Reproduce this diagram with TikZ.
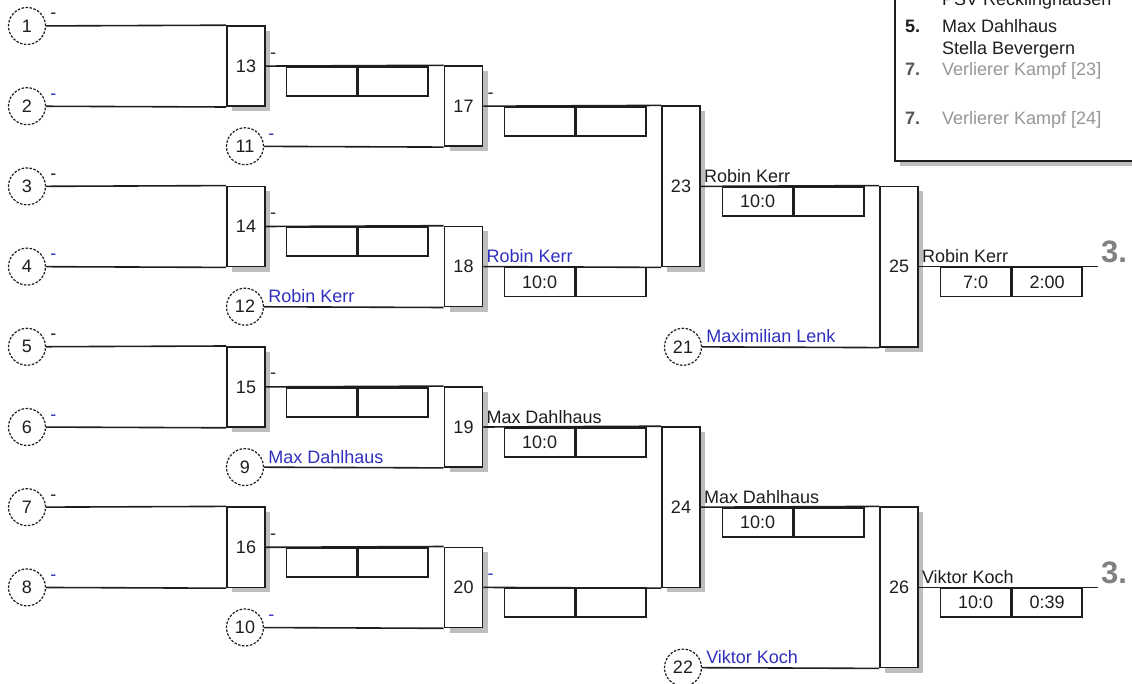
\documentclass[tikz,border=0pt]{standalone}
\usepackage{fontspec}
\setmainfont{Liberation Sans}
\usepackage{tikz}
\usetikzlibrary{positioning,calc,shadows}
\definecolor{brInk}{RGB}{30,30,30}
\definecolor{brBlue}{RGB}{48,48,190}
\definecolor{brShadow}{RGB}{190,190,190}
\definecolor{brGray}{RGB}{150,150,150}
\definecolor{brDark}{RGB}{85,85,85}
\definecolor{brPlace}{RGB}{128,128,128}
\tikzset{
    base/.style={font=\fontsize{18}{21}\selectfont, text=brInk, inner sep=0pt},
    seed/.style={base, circle, draw=brInk, line width=1.2pt, dash pattern=on 2.5pt off 1.5pt,
                 minimum size=37pt, fill=white},
    match/.style={base, rectangle, draw=brInk, line width=1.6pt, fill=white, minimum width=38pt,
                  drop shadow={shadow xshift=5pt, shadow yshift=-5pt, fill=brShadow, opacity=1}},
    score/.style={base, rectangle, draw=brInk, line width=1.6pt, minimum width=70pt,
                  minimum height=29pt, anchor=north west},
    wire/.style={draw=brInk, line width=1.6pt},
    player/.style={base, anchor=base west},
    win/.style={player, text=brBlue},
    rankno/.style={base, anchor=base west, font=\fontsize{31}{33}\selectfont\bfseries, text=brPlace},
    rankbox/.style={draw=brInk, line width=1.6pt, fill=white,
                   drop shadow={shadow xshift=5pt, shadow yshift=-5pt, fill=brShadow, opacity=1}}
}
\begin{document}
\begin{tikzpicture}[x=1pt, y=-1pt]
  \useasboundingbox (0,0) rectangle (1132,684);
  \clip (0,0) rectangle (1132,684);

  % Round 1
  \foreach \m/\a/\b [count=\k from 0] in {13/1/2, 14/3/4, 15/5/6, 16/7/8} {
    \node[match, minimum height=80.2pt] (m\m) at (246, 66.1+160.4*\k) {\m};
    \node[seed] (s\a) at (27, 26+160.4*\k) {\a};
    \node[seed] (s\b) at (27, 106.2+160.4*\k) {\b};
    \draw[wire] (s\a) -- (m\m.north west);
    \draw[wire] (s\b) -- (m\m.south west);
    \node[player] (d\a) at ($(s\a.east)+(4,-7)$) {-};
    \node[win] (d\b) at ($(s\b.east)+(4,-7)$) {-};
    \node[player] (d\m) at ($(m\m.east)+(4,-8)$) {-};
  }

  % Round 2
  \foreach \m/\p/\s [count=\k from 0] in {17/13/11, 18/14/12, 19/15/9, 20/16/10} {
    \node[match, minimum height=80.2pt] (m\m) at (463.5, 106.2+160.4*\k) {\m};
    \node[seed] (s\s) at (245, 146.3+160.4*\k) {\s};
    \draw[wire] (m\p.east) -- (m\m.north west);
    \draw[wire] (s\s) -- (m\m.south west);
    \node[score] (c\p a) at ($(m\p.east)+(20,0)$) {};
    \node[score, right=0pt of c\p a] (c\p b) {};
  }
  \node[win] (d11) at ($(s11.east)+(4,-7)$) {-};
  \node[win] (d10) at ($(s10.east)+(4,-7)$) {-};
  \node[win] (n12) at ($(s12.east)+(4,-4)$) {Robin Kerr};
  \node[win] (n9) at ($(s9.east)+(4,-4)$) {Max Dahlhaus};

  % Round 3
  \node[match, minimum height=160.4pt] (m23) at (681, 186.4) {23};
  \node[match, minimum height=160.4pt] (m24) at (681, 507.2) {24};
  \draw[wire] (m17.east) -- (m23.north west);
  \draw[wire] (m18.east) -- (m23.south west);
  \draw[wire] (m19.east) -- (m24.north west);
  \draw[wire] (m20.east) -- (m24.south west);
  \node[player] (d17) at ($(m17.east)+(4,-8)$) {-};
  \node[win] (n18) at ($(m18.east)+(3,-4)$) {Robin Kerr};
  \node[player] (n19) at ($(m19.east)+(3,-4)$) {Max Dahlhaus};
  \node[win] (d20) at ($(m20.east)+(4,-8)$) {-};
  \foreach \p/\ra/\rb in {17//, 18/10:0/, 19/10:0/, 20//} {
    \node[score] (c\p a) at ($(m\p.east)+(20.5,0)$) {\ra};
    \node[score, right=0pt of c\p a] (c\p b) {\rb};
  }

  % Round 4
  \node[match, minimum height=160.4pt] (m25) at (899, 266.6) {25};
  \node[match, minimum height=160.4pt] (m26) at (899, 587.4) {26};
  \node[seed] (s21) at (683, 346.8) {21};
  \node[seed] (s22) at (683, 667.6) {22};
  \draw[wire] (m23.east) -- (m25.north west);
  \draw[wire] (s21) -- (m25.south west);
  \draw[wire] (m24.east) -- (m26.north west);
  \draw[wire] (s22) -- (m26.south west);
  \node[player] (n23) at ($(m23.east)+(3,-4)$) {Robin Kerr};
  \node[player] (n24) at ($(m24.east)+(3,-4)$) {Max Dahlhaus};
  \node[win] (n21) at ($(s21.east)+(4,-4)$) {Maximilian Lenk};
  \node[win] (n22) at ($(s22.east)+(4,-4)$) {Viktor Koch};
  \foreach \p in {23, 24} {
    \node[score] (c\p a) at ($(m\p.east)+(21,0)$) {10:0};
    \node[score, right=0pt of c\p a] (c\p b) {};
  }

  % Places
  \coordinate (f25) at ($(m25.east)+(179,0)$);
  \coordinate (f26) at ($(m26.east)+(179,0)$);
  \draw[wire] (m25.east) -- (f25);
  \draw[wire] (m26.east) -- (f26);
  \node[player] (n25) at ($(m25.east)+(3,-4)$) {Robin Kerr};
  \node[player] (n26) at ($(m26.east)+(3,-4)$) {Viktor Koch};
  \node[score] (c25a) at ($(m25.east)+(21,0)$) {7:0};
  \node[score, right=0pt of c25a] (c25b) {2:00};
  \node[score] (c26a) at ($(m26.east)+(21,0)$) {10:0};
  \node[score, right=0pt of c26a] (c26b) {0:39};
  \node[rankno] (p25) at ($(f25)+(3,-4)$) {3.};
  \node[rankno] (p26) at ($(f26)+(3,-4)$) {3.};

  % Ranking
  \draw[rankbox] (895,-30) rectangle (1170,161);
  \node[player] (l3) at (942,6) {PSV Recklinghausen};
  \node[player, font=\fontsize{18}{21}\selectfont\bfseries] (l5) at (905,33) {5.};
  \node[player] (l5a) at (942,33) {Max Dahlhaus};
  \node[player] (l5b) at (942,55) {Stella Bevergern};
  \node[player, font=\fontsize{18}{21}\selectfont\bfseries, text=brDark] (l7a) at (905,76) {7.};
  \node[player, text=brGray] (v23) at (942,76) {Verlierer Kampf [23]};
  \node[player, font=\fontsize{18}{21}\selectfont\bfseries, text=brDark] (l7b) at (905,125) {7.};
  \node[player, text=brGray] (v24) at (942,125) {Verlierer Kampf [24]};
\end{tikzpicture}
\end{document}
